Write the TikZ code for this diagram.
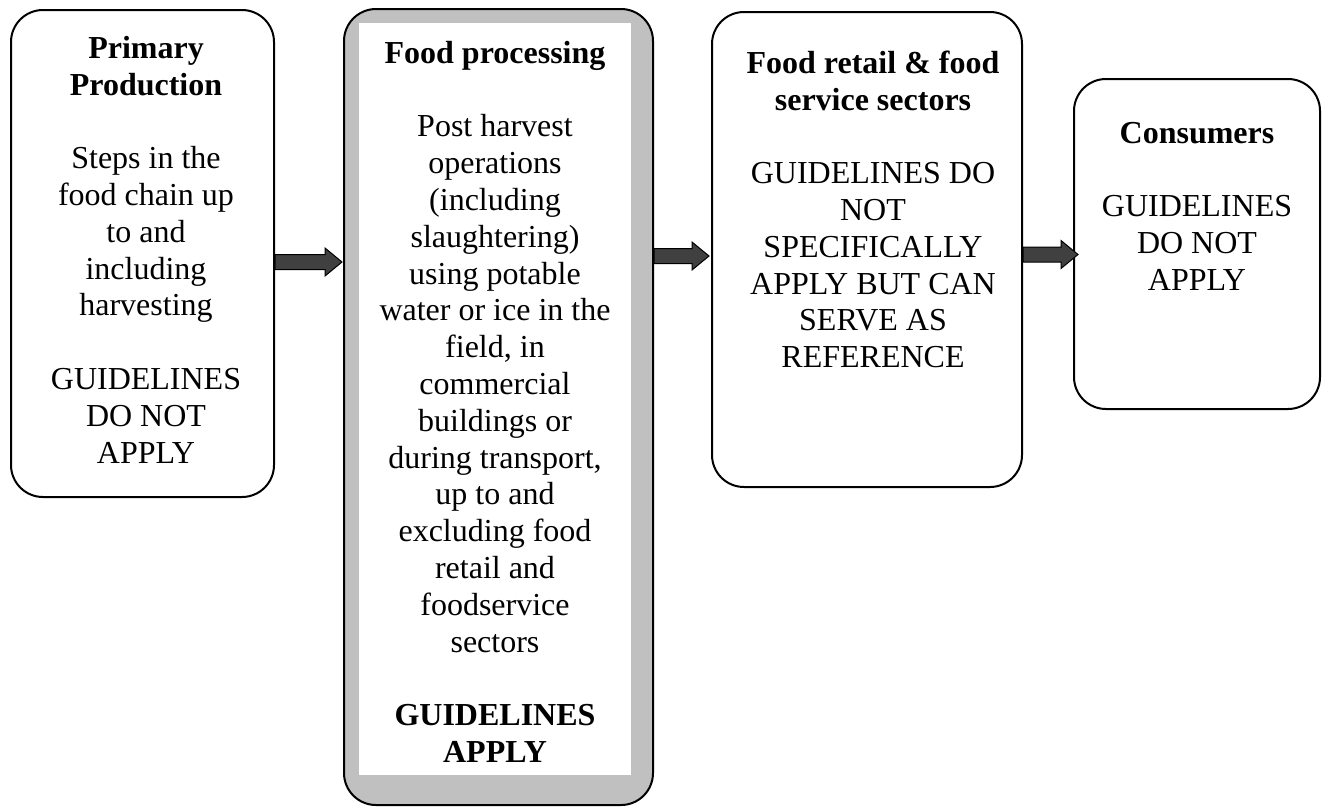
\documentclass[tikz,border=0pt]{standalone}
\usepackage{fontspec}
\setmainfont{Liberation Serif}
\usetikzlibrary{calc}
\definecolor{boxgray}{HTML}{C0C0C0}
\definecolor{arrowgray}{HTML}{404040}
\tikzset{
  stage/.style={draw, line width=2pt, rounded corners=32pt, inner sep=0pt},
  stagetext/.style={anchor=north, align=center, inner sep=0pt, font=\fontsize{32}{36.8}\selectfont},
  blockarrow/.style={draw, line width=1pt, fill=arrowgray, line join=miter}
}
\newcommand{\blockarr}[2]{%
  \draw[blockarrow] ($(#1)+(0,7.5)$) -- ($(#2)+(-17,7.5)$) -- ($(#2)+(-17,14)$) -- (#2)
    -- ($(#2)+(-17,-14)$) -- ($(#2)+(-17,-7.5)$) -- ($(#1)+(0,-7.5)$) -- cycle;}

\begin{document}
\begin{tikzpicture}[x=1pt,y=1pt]
    \useasboundingbox (0,0) rectangle (1322,-807);
    \node[stage, minimum width=263pt, minimum height=487pt] (prim) at (142.5,-253.5) {};
    \node[stage, fill=boxgray, minimum width=309pt, minimum height=796pt] (proc) at (498.5,-407) {};
    \node[fill=white, inner sep=0pt, minimum width=272pt, minimum height=752pt] (procin) at (495,-399) {};
    \node[stage, minimum width=310pt, minimum height=475pt] (retail) at (867,-249.5) {};
    \node[stage, minimum width=246pt, minimum height=330pt] (cons) at (1197,-244) {};

    \node[stagetext] (primtxt) at (146,-32.24) {\strut\textbf{Primary}\\\textbf{Production}\\[36.8pt]
        Steps in the\\food chain up\\to and\\including\\harvesting\\[36.8pt]GUIDELINES\\DO NOT\\APPLY};
    \node[stagetext] (proctxt) at (495,-37.24) {\strut\textbf{Food processing}\\[36.8pt]
        Post harvest\\operations\\(including\\slaughtering)\\using potable\\water or ice in the\\field, in\\commercial\\buildings or\\during transport,\\up to and\\excluding food\\retail and\\foodservice\\sectors\\[36.8pt]
        \textbf{GUIDELINES}\\\textbf{APPLY}};
    \node[stagetext] (retailtxt) at (873,-47.24) {\strut\textbf{Food retail \& food}\\\textbf{service sectors}\\[36.8pt]
        GUIDELINES DO\\NOT\\SPECIFICALLY\\APPLY BUT CAN\\SERVE AS\\REFERENCE};
    \node[stagetext] (constxt) at (1197,-117.24) {\strut\textbf{Consumers}\\[36.8pt]GUIDELINES\\DO NOT\\APPLY};

    \coordinate (a1s) at (prim.east |- 0,-262);
    \coordinate (a1e) at ($(proc.west |- 0,-262)+(-1,0)$);
    \coordinate (a2s) at (proc.east |- 0,-256);
    \coordinate (a2e) at ($(retail.west |- 0,-256)+(-2,0)$);
    \coordinate (a3s) at (retail.east |- 0,-254.5);
    \coordinate (a3e) at ($(cons.west |- 0,-254.5)+(5,0)$);
    \blockarr{a1s}{a1e}
    \blockarr{a2s}{a2e}
    \blockarr{a3s}{a3e}
\end{tikzpicture}
\end{document}
